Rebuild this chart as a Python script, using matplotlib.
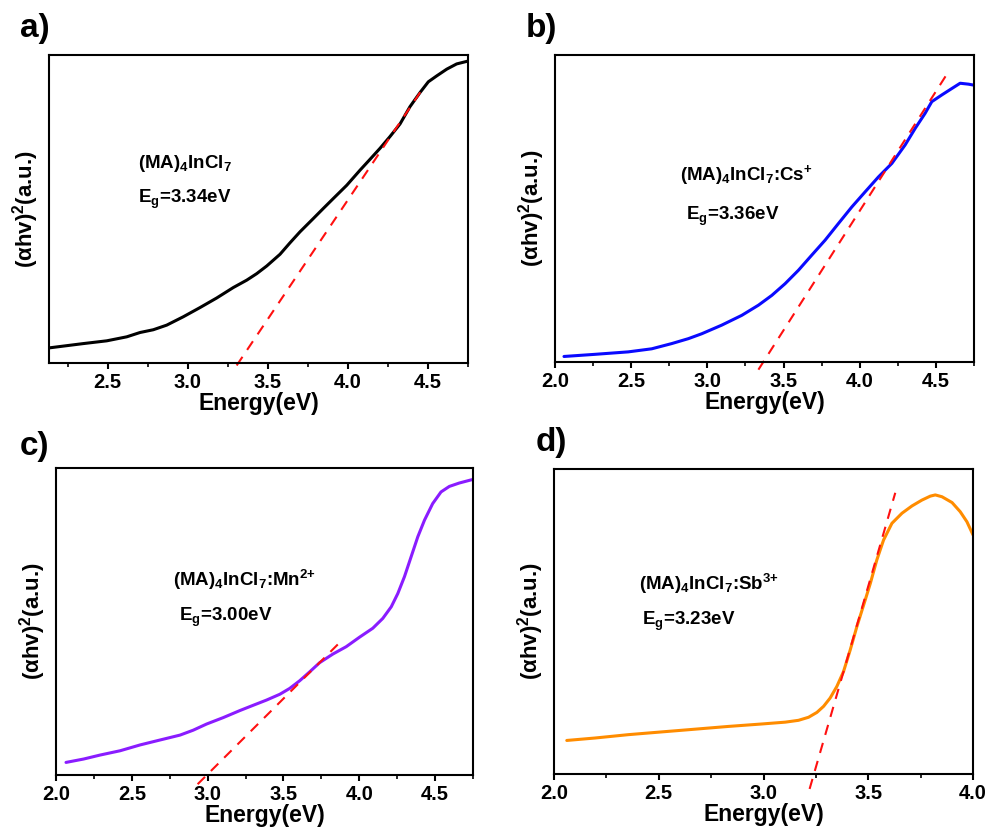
import matplotlib
matplotlib.use("Agg")
import matplotlib.pyplot as plt
from matplotlib.ticker import MultipleLocator

plt.rcParams['font.family'] = ['Liberation Sans', 'DejaVu Sans']
plt.rcParams['font.weight'] = 'bold'
plt.rcParams['mathtext.fontset'] = 'custom'
plt.rcParams['mathtext.rm'] = 'Liberation Sans:bold'
plt.rcParams['mathtext.it'] = 'Liberation Sans:bold'
plt.rcParams['mathtext.bf'] = 'Liberation Sans:bold'
plt.rcParams['mathtext.default'] = 'rm'

# panel a: (MA)4InCl7
energy_a = [2.133, 2.347, 2.494, 2.619, 2.702, 2.785, 2.869, 2.972, 3.077, 3.181,
            3.285, 3.369, 3.431, 3.494, 3.577, 3.639, 3.702, 3.785, 3.848, 3.91,
            3.994, 4.077, 4.139, 4.202, 4.264, 4.327, 4.389, 4.452, 4.504, 4.556,
            4.619, 4.681, 4.75]
absorb_a = [0.049, 0.063, 0.072, 0.085, 0.099, 0.108, 0.123, 0.150, 0.180, 0.211,
            0.245, 0.269, 0.290, 0.315, 0.353, 0.390, 0.426, 0.469, 0.502, 0.534,
            0.577, 0.626, 0.661, 0.697, 0.735, 0.776, 0.832, 0.878, 0.913, 0.932,
            0.954, 0.971, 0.980]
fit_x_a = [3.306, 4.456]
fit_y_a = [-0.008, 0.881]

# panel b: Cs+
energy_b = [2.059, 2.263, 2.481, 2.635, 2.766, 2.875, 2.963, 3.094, 3.226, 3.335,
            3.423, 3.510, 3.598, 3.685, 3.773, 3.860, 3.948, 4.035, 4.123, 4.211,
            4.298, 4.364, 4.429, 4.473, 4.539, 4.605, 4.659, 4.714, 4.747]
absorb_b = [0.018, 0.025, 0.033, 0.043, 0.060, 0.076, 0.092, 0.120, 0.152, 0.185,
            0.217, 0.255, 0.299, 0.348, 0.397, 0.451, 0.505, 0.554, 0.603, 0.647,
            0.707, 0.761, 0.810, 0.848, 0.870, 0.891, 0.908, 0.905, 0.902]
fit_x_b = [3.335, 4.583]
fit_y_b = [-0.025, 0.946]

# panel c: Mn2+
energy_c = [2.066, 2.182, 2.291, 2.423, 2.555, 2.686, 2.818, 2.905, 2.993, 3.103,
            3.213, 3.300, 3.388, 3.476, 3.541, 3.607, 3.673, 3.739, 3.826, 3.914,
            4.002, 4.089, 4.155, 4.211, 4.254, 4.298, 4.342, 4.386, 4.430, 4.484,
            4.539, 4.594, 4.659, 4.743]
absorb_c = [0.041, 0.052, 0.065, 0.079, 0.098, 0.114, 0.130, 0.146, 0.166, 0.187,
            0.210, 0.227, 0.244, 0.263, 0.282, 0.307, 0.336, 0.366, 0.394, 0.418,
            0.449, 0.478, 0.510, 0.548, 0.591, 0.646, 0.711, 0.776, 0.830, 0.884,
            0.922, 0.940, 0.951, 0.962]
fit_x_c = [2.934, 3.870]
fit_y_c = [-0.030, 0.431]

# panel d: Sb3+
energy_d = [2.061, 2.196, 2.355, 2.514, 2.674, 2.833, 2.992, 3.104, 3.167, 3.215,
            3.255, 3.287, 3.318, 3.350, 3.382, 3.414, 3.446, 3.478, 3.510, 3.541,
            3.573, 3.613, 3.661, 3.709, 3.756, 3.796, 3.820, 3.852, 3.900, 3.939,
            3.971, 4.0]
absorb_d = [0.110, 0.118, 0.129, 0.138, 0.147, 0.156, 0.164, 0.170, 0.176, 0.186,
            0.202, 0.222, 0.249, 0.287, 0.336, 0.407, 0.484, 0.554, 0.625, 0.702,
            0.767, 0.822, 0.855, 0.879, 0.898, 0.911, 0.915, 0.909, 0.890, 0.860,
            0.827, 0.784]
fit_x_d = [3.220, 3.629]
fit_y_d = [-0.049, 0.922]

panels = [
    ("a)", energy_a, absorb_a, fit_x_a, fit_y_a, "black", (2.133, 4.752),
     "(MA)$_4$InCl$_7$", "E$_g$=3.34eV"),
    ("b)", energy_b, absorb_b, fit_x_b, fit_y_b, "#0a0aff", (2.0, 4.75),
     "(MA)$_4$InCl$_7$:Cs$^{{+}}$", "E$_g$=3.36eV"),
    ("c)", energy_c, absorb_c, fit_x_c, fit_y_c, "#8a1cff", (2.0, 4.75),
     "(MA)$_4$InCl$_7$:Mn$^{2{+}}$", "E$_g$=3.00eV"),
    ("d)", energy_d, absorb_d, fit_x_d, fit_y_d, "#ff8c00", (2.0, 4.0),
     "(MA)$_4$InCl$_7$:Sb$^{3{+}}$", "E$_g$=3.23eV"),
]

W, H = 990, 838
fig = plt.figure(figsize=(9.9, 8.38), dpi=100)

# axes boxes in pixels: left, top, right, bottom
boxes = [(49, 55, 468, 363), (555, 55, 974, 362), (56, 468, 473, 775), (554, 469, 973, 774)]
letter_pos = [(20, 28), (526, 28), (20, 446), (536, 442)]
text_pos = [((138, 163), (138, 199)), ((680, 175), (686, 216)),
            ((173, 580), (179, 617)), ((639, 584), (642, 621))]

for (letter, ex, ey, fx, fy, color, xlim, name, eg), box, lp, tp in zip(panels, boxes, letter_pos, text_pos):
    l, t, r, b = box
    ax = fig.add_axes([l / W, 1 - b / H, (r - l) / W, (b - t) / H])
    ax.plot(ex, ey, color=color, lw=2.2, solid_capstyle='round', solid_joinstyle='round')
    ax.plot(fx, fy, color='#ff1010', lw=1.5, ls=(0, (5, 4)), clip_on=False)
    ax.set_xlim(*xlim)
    ax.set_ylim(0, 1)
    ax.set_yticks([])
    ax.xaxis.set_major_locator(MultipleLocator(0.5))
    ax.xaxis.set_minor_locator(MultipleLocator(0.25))
    ax.tick_params(axis='x', which='major', direction='out', length=4, width=1.5,
                   labelsize=14.5, pad=3)
    ax.tick_params(axis='x', which='minor', direction='out', length=3, width=1.2)
    for lab in ax.get_xticklabels():
        lab.set_fontweight('bold')
    for sp in ax.spines.values():
        sp.set_linewidth(1.5)
    ax.set_xlabel("Energy(eV)", fontsize=16.5, fontweight='bold', labelpad=0)
    ax.set_ylabel("(αhv)$^2$(a.u.)", fontsize=16, fontweight='bold', labelpad=6)
    fig.text(lp[0] / W, 1 - lp[1] / H, letter, fontsize=24, fontweight='bold',
             ha='left', va='center')
    fig.text(tp[0][0] / W, 1 - tp[0][1] / H, name, fontsize=13.5, fontweight='bold',
             ha='left', va='center')
    fig.text(tp[1][0] / W, 1 - tp[1][1] / H, eg, fontsize=13.5, fontweight='bold',
             ha='left', va='center')

fig.savefig("out.png", dpi=100)
